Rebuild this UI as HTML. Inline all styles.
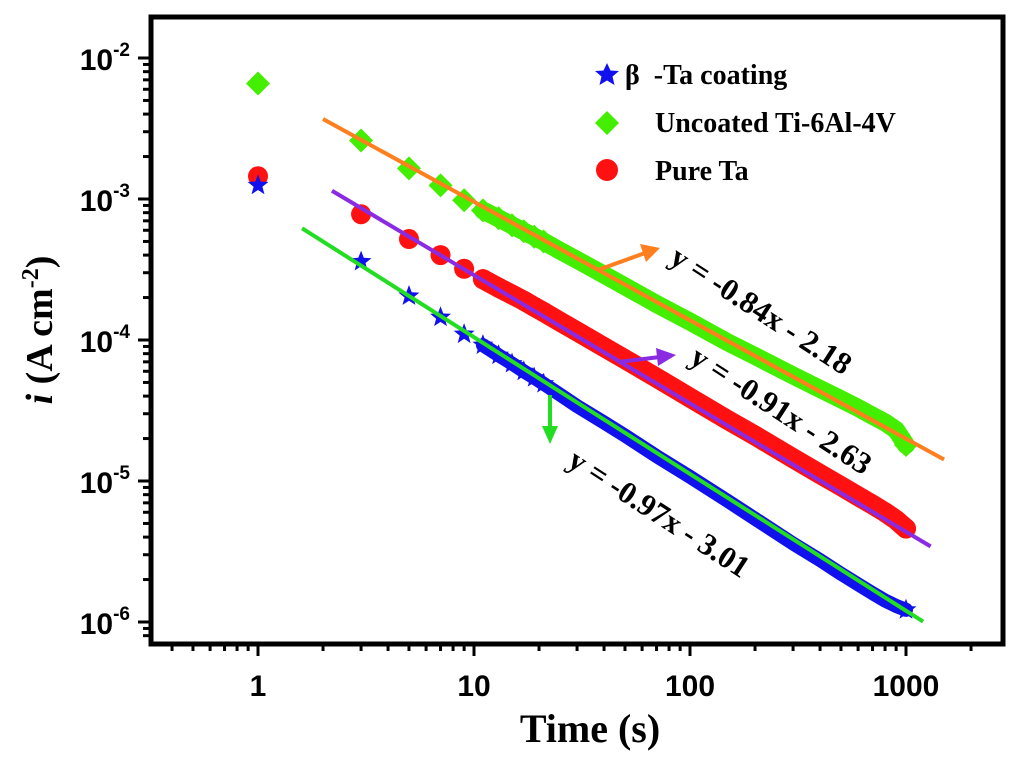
<!DOCTYPE html>
<html><head><meta charset="utf-8"><style>
body{margin:0;background:#fff;}
svg{display:block;}
.tk{font-family:"Liberation Sans",Arial,sans-serif;font-weight:bold;font-size:30px;fill:#000;}
.sr{font-family:"Liberation Serif","Times New Roman",serif;font-weight:bold;fill:#000;}
</style></head><body>
<svg id="chart" width="1024" height="760" viewBox="0 0 1024 760">
<g id="plot"></g>
</svg>
<script>
const times=[1,3,5,7,9,11,13,15,17,19,21,25,30,40,50,70,100,150,200,300,400,500,600,700,800,900,1000];
const uncoated=[6.6e-3,2.6e-3,1.65e-3,1.25e-3,9.8e-4,8.3e-4,7.3e-4,6.5e-4,5.9e-4,5.4e-4,5.0e-4,4.3e-4,3.7e-4,2.9e-4,2.4e-4,1.8e-4,1.35e-4,9.6e-5,7.7e-5,5.6e-5,4.5e-5,3.8e-5,3.3e-5,2.9e-5,2.6e-5,2.3e-5,1.8e-5];
const pureTa=[1.45e-3,7.8e-4,5.2e-4,4.0e-4,3.2e-4,2.7e-4,2.35e-4,2.1e-4,1.9e-4,1.72e-4,1.58e-4,1.35e-4,1.15e-4,8.9e-5,7.3e-5,5.4e-5,3.9e-5,2.7e-5,2.1e-5,1.45e-5,1.12e-5,9.2e-6,7.8e-6,6.8e-6,6.0e-6,5.3e-6,4.6e-6];
const betaTa=[1.25e-3,3.6e-4,2.05e-4,1.45e-4,1.1e-4,9.2e-5,7.8e-5,6.8e-5,6.0e-5,5.4e-5,4.9e-5,4.1e-5,3.4e-5,2.6e-5,2.1e-5,1.5e-5,1.07e-5,7.2e-6,5.4e-6,3.6e-6,2.75e-6,2.2e-6,1.85e-6,1.6e-6,1.42e-6,1.3e-6,1.22e-6];
const fitSlopes=[-0.84,-0.91,-0.97];
const fitIntercepts=[-2.18,-2.63,-3.01];
const fitRanges=[[2,1500],[2.2,1300],[1.6,1200]];
const xTicks=[1,10,100,1000];
const xTickLabels=["1","10","100","1000"];
const yTicks=[-2,-3,-4,-5,-6];

const NS="http://www.w3.org/2000/svg";
const g=document.getElementById('plot');
const X=t=>258+216*Math.log10(t);
const Y=v=>58+141*(-2-Math.log10(v));
function el(tag,attrs,parent){const e=document.createElementNS(NS,tag);for(const k in attrs)e.setAttribute(k,attrs[k]);(parent||g).appendChild(e);return e;}

const fr=el('rect',{x:151,y:17,width:852,height:627,fill:'none',stroke:'#000','stroke-width':5});


for(let d=-1;d<=3;d++){for(let m=1;m<10;m++){const t=m*Math.pow(10,d);const x=X(t);if(x<153||x>1001)continue;
 const tk=el('line',{x1:x,x2:x,y1:644,y2:m==1?656:651,stroke:'#000','stroke-width':3});
 
 }}
xTicks.forEach((t,i)=>{const tx=el('text',{x:X(t),y:696,'text-anchor':'middle',class:'tk'});tx.textContent=xTickLabels[i];
 
 });
for(let e=-7;e<=-2;e++){for(let m=1;m<10;m++){const v=m*Math.pow(10,e);const y=Y(v);if(y<19||y>642)continue;
 const tk=el('line',{x1:151,x2:m==1?138:143,y1:y,y2:y,stroke:'#000','stroke-width':3});
 
 }}
yTicks.forEach(e=>{const y=Y(Math.pow(10,e));const tx=el('text',{x:130,y:y+12,'text-anchor':'end',class:'tk'});
 tx.innerHTML='10<tspan dy="-14" font-size="19">'+e+'</tspan>';
 
 });

function band(vals,color,name,w){const pts=[];times.forEach((t,i)=>{if(t>=11)pts.push(X(t)+','+Y(vals[i]));});
 const p=el('polyline',{points:pts.join(' '),fill:'none',stroke:color,'stroke-width':w,'stroke-linejoin':'round','stroke-linecap':'round'});
 
 }
function star(cx,cy,r,color){const p=[];for(let i=0;i<10;i++){const a=-Math.PI/2+i*Math.PI/5;const rr=i%2?r*0.42:r;p.push((cx+rr*Math.cos(a)).toFixed(1)+','+(cy+rr*Math.sin(a)).toFixed(1));}
 return el('polygon',{points:p.join(' '),fill:color});}
function diamond(cx,cy,r,color){return el('polygon',{points:`${cx},${cy-r} ${cx+r},${cy} ${cx},${cy+r} ${cx-r},${cy}`,fill:color});}
function circ(cx,cy,r,color){return el('circle',{cx:cx,cy:cy,r:r,fill:color});}
const show=t=>t<=21||t>=1000;

band(uncoated,'#44ee00','uncoated',18);
band(pureTa,'#ff1111','pure-ta',20);
band(betaTa,'#1111ee','beta-ta',14);
times.forEach((t,i)=>{if(!show(t))return;const m=diamond(X(t),Y(uncoated[i]),12,'#44ee00');
 
 });
times.forEach((t,i)=>{if(!show(t))return;const m=circ(X(t),Y(pureTa[i]),10,'#ff1111');
 
 });
times.forEach((t,i)=>{if(!show(t))return;const m=star(X(t),Y(betaTa[i]),11,'#1111ee');
 
 });

const fitColors=['#ff7f1e','#8a2be2','#22dd22'];
const fitNames=['uncoated-fit-line','pure-ta-fit-line','beta-ta-fit-line'];
fitSlopes.forEach((s,i)=>{const [a,b]=fitRanges[i];const f=t=>Math.pow(10,s*Math.log10(t)+fitIntercepts[i]);
 const l=el('line',{x1:X(a),y1:Y(f(a)),x2:X(b),y2:Y(f(b)),stroke:fitColors[i],'stroke-width':4});
 
 });
</script>
<script>
const svg=document.getElementById('chart');
svg.insertAdjacentHTML('beforeend',`
<g>
 <line x1="598" y1="270" x2="645" y2="253" stroke="#ff7f1e" stroke-width="4"/>
 <polygon points="660,248 640,244 646,262" fill="#ff7f1e"/>
 <line x1="618" y1="362" x2="660" y2="357" stroke="#8a2be2" stroke-width="4"/>
 <polygon points="676,355 656,348 658,366" fill="#8a2be2"/>
 <line x1="550" y1="395" x2="550" y2="430" stroke="#22dd22" stroke-width="4"/>
 <polygon points="550,444 542,426 558,426" fill="#22dd22"/>
 <text class="sr" font-size="31" transform="translate(668,262) rotate(33)">y = -0.84x - 2.18</text>
 <text class="sr" font-size="31" transform="translate(688,362) rotate(33)">y = -0.91x - 2.63</text>
 <text class="sr" font-size="31" transform="translate(566,465) rotate(33)">y = -0.97x - 3.01</text>
</g>
<g>
 <g>
  <polygon points="607,63 610.5,70.5 619,71 612.5,76.5 614.5,85 607,80.5 599.5,85 601.5,76.5 595,71 603.5,70.5" fill="#1111ee"/>
  <text class="sr" font-size="28" x="625" y="84">β&#160;&#160;-Ta coating</text>
 </g>
 <g>
  <polygon points="607,111 619,123 607,135 595,123" fill="#44ee00"/>
  <text class="sr" font-size="28" x="655" y="132">Uncoated Ti-6Al-4V</text>
 </g>
 <g>
  <circle cx="607" cy="170" r="11" fill="#ff1111"/>
  <text class="sr" font-size="28" x="655" y="180">Pure Ta</text>
 </g>
</g>
<text class="sr" font-size="40" x="590" y="742" text-anchor="middle">Time (s)</text>
<text class="sr" font-size="38" transform="translate(52,330) rotate(-90)" text-anchor="middle"><tspan font-style="italic">i</tspan> (A cm<tspan dy="-14" font-size="24">-2</tspan><tspan dy="14">)</tspan></text>
`);
</script>
</body></html>
